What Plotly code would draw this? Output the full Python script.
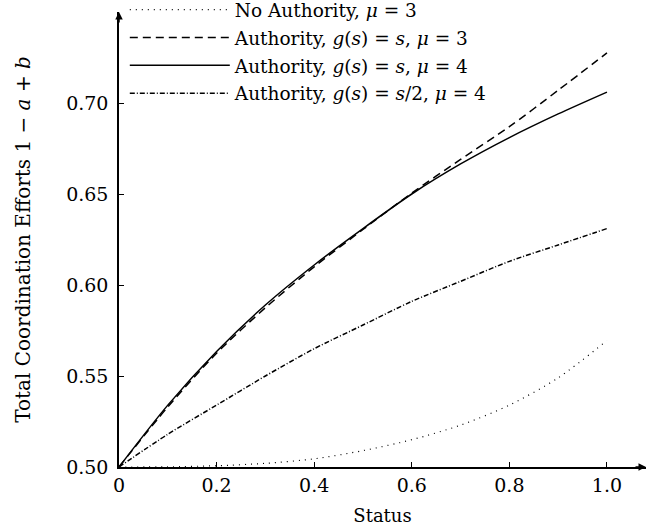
import plotly.graph_objects as go

status = [0.0, 0.1, 0.2, 0.3, 0.4, 0.5, 0.6, 0.7, 0.8, 0.9, 1.0]
no_auth_mu3 = [0.5, 0.5001, 0.5007, 0.502, 0.5045, 0.509, 0.515, 0.523, 0.534, 0.549, 0.5695]
auth_s_mu3 = [0.5, 0.533, 0.5625, 0.5875, 0.610, 0.6305, 0.6505, 0.669, 0.687, 0.707, 0.7275]
auth_s_mu4 = [0.5, 0.534, 0.5635, 0.589, 0.611, 0.631, 0.650, 0.6665, 0.681, 0.694, 0.706]
auth_half_mu4 = [0.5, 0.518, 0.534, 0.550, 0.565, 0.578, 0.591, 0.602, 0.613, 0.622, 0.631]

x_ticks = [0, 0.2, 0.4, 0.6, 0.8, 1.0]
x_ticklabels = ["0", "0.2", "0.4", "0.6", "0.8", "1.0"]
y_ticks = [0.50, 0.55, 0.60, 0.65, 0.70]
y_ticklabels = ["0.50", "0.55", "0.60", "0.65", "0.70"]

names = [
    "No Authority, <i>μ</i> = 3",
    "Authority, <i>g</i>(<i>s</i>) = <i>s</i>, <i>μ</i> = 3",
    "Authority, <i>g</i>(<i>s</i>) = <i>s</i>, <i>μ</i> = 4",
    "Authority, <i>g</i>(<i>s</i>) = <i>s</i>/2, <i>μ</i> = 4",
]
series = [no_auth_mu3, auth_s_mu3, auth_s_mu4, auth_half_mu4]
dashes = ["1px,5px", "8px,5px", "solid", "5px,2px,1px,2px"]
widths = [1.2, 1.5, 1.5, 1.5]

FONT = "DejaVu Serif"

fig = go.Figure()
for i, (n, ys, d, w) in enumerate(zip(names, series, dashes, widths)):
    fig.add_trace(go.Scatter(
        x=status, y=ys, mode="lines", name=n, legendgroup=f"g{i}",
        line=dict(color="black", width=w, dash=d, shape="spline", smoothing=0.8),
    ))

fig.update_layout(
    width=647, height=530,
    margin=dict(l=119, r=1, t=12, b=63, autoexpand=False),
    paper_bgcolor="white", plot_bgcolor="white",
    font=dict(family=FONT, size=19, color="black"),
    showlegend=True,
    legend=dict(x=0.011, y=1.046, xanchor="left", yanchor="top",
                bgcolor="rgba(0,0,0,0)", borderwidth=0,
                itemwidth=100, tracegroupgap=0.8,
                font=dict(family=FONT, size=18.5, color="black")),
    xaxis=dict(range=[0, 1.08], tickvals=x_ticks, ticktext=x_ticklabels,
               showgrid=False, zeroline=False, showline=True, linecolor="black",
               linewidth=1.5, ticks="inside", ticklen=5, tickcolor="black",
               tickfont=dict(size=19),
               title=dict(text="Status", standoff=15, font=dict(size=18))),
    yaxis=dict(range=[0.5, 0.75], tickvals=y_ticks, ticktext=y_ticklabels,
               showgrid=False, zeroline=False, showline=True, linecolor="black",
               linewidth=1.5, ticks="inside", ticklen=5, tickcolor="black",
               tickfont=dict(size=19), ticklabelstandoff=5,
               title=dict(text="Total Coordination Efforts 1 − <i>a</i> + <i>b</i>",
                          standoff=30, font=dict(size=20))),
)

# axis arrows
fig.add_annotation(x=1.08, y=0.5, xref="x", yref="y", ax=-12, ay=0,
                   showarrow=True, arrowhead=2, arrowsize=1, arrowwidth=1.5,
                   arrowcolor="black", text="")
fig.add_annotation(x=0, y=0.75, xref="x", yref="y", ax=0, ay=12,
                   showarrow=True, arrowhead=2, arrowsize=1, arrowwidth=1.5,
                   arrowcolor="black", text="")

# remove the browser's default 8px page margin so the figure fills the window
fig.write_html("out.html", config={"displayModeBar": False},
               post_script="document.body.style.margin='0px';")
